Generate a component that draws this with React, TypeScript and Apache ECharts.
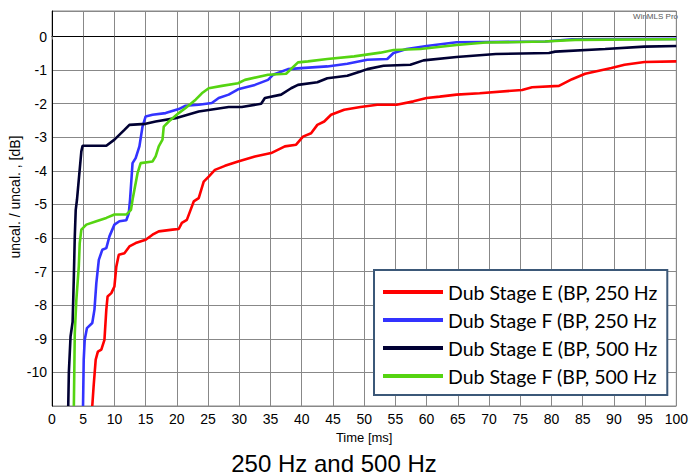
import React, { useEffect, useRef } from "react";
import * as echarts from "echarts";

const xTicks = [0, 5, 10, 15, 20, 25, 30, 35, 40, 45, 50, 55, 60, 65, 70, 75, 80, 85, 90, 95, 100];
const yTickLabels = [0, -1, -2, -3, -4, -5, -6, -7, -8, -9, -10];

const seriesNames = [
  "Dub Stage E (BP, 250 Hz",
  "Dub Stage F (BP, 250 Hz",
  "Dub Stage E (BP, 500 Hz",
  "Dub Stage F (BP, 500 Hz",
];
const seriesColors = ["#ff0000", "#3333ff", "#000033", "#55d411"];

const redT = [6.45, 6.67, 7.0, 7.35, 7.9, 8.4, 8.7, 8.9, 9.5, 10.0, 10.3, 10.7, 11.6, 12.4, 13.4, 15.0, 16.1, 17.1, 19.3, 20.3, 20.8, 21.6, 22.2, 22.7, 23.5, 24.3, 25.1, 26.1, 27.7, 29.8, 32.5, 35.1, 37.3, 39.1, 40.2, 41.5, 42.5, 43.6, 44.7, 46.8, 49.4, 52.1, 55.2, 57.9, 60.0, 62.1, 64.8, 68.5, 75.3, 76.9, 81.2, 83.3, 85.4, 89.6, 91.7, 94.9, 100];
const redV = [-11, -10.4, -9.62, -9.38, -9.32, -9.03, -8.13, -7.74, -7.64, -7.44, -6.85, -6.5, -6.45, -6.25, -6.15, -6.05, -5.9, -5.8, -5.75, -5.73, -5.55, -5.46, -5.16, -4.91, -4.81, -4.32, -4.17, -3.97, -3.85, -3.72, -3.57, -3.47, -3.27, -3.22, -2.98, -2.88, -2.63, -2.53, -2.33, -2.18, -2.1, -2.03, -2.03, -1.93, -1.83, -1.79, -1.73, -1.69, -1.59, -1.51, -1.47, -1.27, -1.11, -0.94, -0.84, -0.76, -0.74];

const blueT = [4.97, 5.08, 5.24, 5.6, 6.45, 6.8, 7.1, 7.5, 8.05, 8.7, 9.2, 10.0, 10.8, 11.9, 12.3, 12.5, 12.9, 13.4, 14.0, 14.5, 15.0, 16.1, 18.2, 20.3, 21.4, 23.5, 25.6, 26.7, 28.3, 29.8, 32.5, 34.6, 35.4, 37.8, 39.9, 44.1, 47.3, 50.5, 53.7, 54.7, 56.8, 60.0, 64.8, 79.0, 83.3, 100];
const blueV = [-11, -9.62, -9.03, -8.68, -8.53, -8.13, -7.34, -6.65, -6.35, -6.3, -5.95, -5.6, -5.5, -5.47, -5.26, -4.86, -3.77, -3.62, -3.27, -2.68, -2.38, -2.33, -2.28, -2.16, -2.06, -2.03, -1.98, -1.83, -1.73, -1.57, -1.44, -1.29, -1.14, -0.97, -0.94, -0.89, -0.81, -0.69, -0.67, -0.49, -0.37, -0.28, -0.17, -0.15, -0.08, -0.07];

const navyT = [2.6, 2.7, 2.97, 3.3, 3.4, 3.5, 3.65, 3.8, 4.0, 4.7, 4.9, 8.7, 10.0, 11.6, 12.4, 15.0, 16.6, 19.8, 23.5, 28.3, 30.4, 33.5, 34.1, 36.7, 38.3, 39.4, 42.5, 44.1, 47.3, 49.4, 50.5, 53.1, 57.4, 59.5, 64.8, 71.1, 79.6, 80.6, 88.6, 94.9, 100];
const navyV = [-11, -10.0, -8.93, -8.5, -7.84, -7.14, -5.95, -5.16, -4.86, -3.42, -3.25, -3.25, -3.07, -2.78, -2.63, -2.6, -2.53, -2.43, -2.23, -2.1, -2.1, -2.0, -1.83, -1.73, -1.54, -1.44, -1.36, -1.24, -1.17, -1.04, -0.97, -0.87, -0.84, -0.71, -0.61, -0.52, -0.49, -0.45, -0.37, -0.3, -0.28];

const greenT = [3.5, 3.65, 3.9, 4.29, 4.44, 4.7, 5.5, 7.1, 8.7, 10.0, 11.9, 12.65, 12.9, 13.7, 14.2, 16.1, 16.6, 17.1, 17.7, 17.9, 18.7, 20.3, 21.4, 23.0, 24.0, 25.1, 27.2, 29.8, 30.9, 34.6, 37.5, 39.4, 41.0, 44.1, 48.4, 52.6, 54.7, 59.0, 64.8, 69.5, 79.0, 83.8, 100];
const greenV = [-11, -8.83, -7.84, -6.85, -6.15, -5.75, -5.6, -5.5, -5.4, -5.3, -5.3, -5.16, -4.86, -4.07, -3.77, -3.72, -3.57, -3.27, -3.07, -2.68, -2.53, -2.28, -2.13, -1.88, -1.69, -1.54, -1.47, -1.39, -1.29, -1.14, -1.11, -0.77, -0.74, -0.67, -0.59, -0.48, -0.4, -0.37, -0.25, -0.18, -0.15, -0.1, -0.08];

const allT = [redT, blueT, navyT, greenT];
const allV = [redV, blueV, navyV, greenV];

const zip = (t: number[], v: number[]) => t.map((x, i) => [x, v[i]]);

export default function App() {
  const ref = useRef<HTMLDivElement>(null);
  useEffect(() => {
    document.body.style.margin = "0";
    const chart = echarts.init(ref.current!, null, { renderer: "svg" });
    const axisFont = "'Liberation Sans', Arial, sans-serif";
    chart.setOption({
      animation: false,
      backgroundColor: "#ffffff",
      grid: {
        left: 52,
        right: 9,
        top: 11,
        bottom: 70,
        show: true,
        borderColor: "#888888",
        borderWidth: 1,
      },
      xAxis: {
        type: "value",
        min: 0,
        max: 100,
        interval: 5,
        name: "Time [ms]",
        nameLocation: "middle",
        nameGap: 24,
        nameTextStyle: { fontFamily: axisFont, fontSize: 13, color: "#000" },
        axisLine: { show: true, lineStyle: { color: "#000", width: 1 } },
        axisTick: { show: true, length: 3, lineStyle: { color: "#777" } },
        axisLabel: {
          fontFamily: axisFont,
          fontSize: 14,
          color: "#000",
          margin: 6,
          formatter: (v: number) => (xTicks.includes(v) ? String(v) : ""),
        },
        splitLine: { show: true, lineStyle: { color: "#888888", width: 1 } },
      },
      yAxis: {
        type: "value",
        min: -11,
        max: 0.76,
        interval: 1,
        axisLine: { show: true, lineStyle: { color: "#000", width: 1 } },
        axisTick: { show: false },
        axisLabel: {
          fontFamily: axisFont,
          fontSize: 14,
          color: "#000",
          margin: 5,
          showMaxLabel: false,
          formatter: (v: number) => (yTickLabels.includes(v) ? String(v) : ""),
        },
        splitLine: { show: true, lineStyle: { color: "#888888", width: 1 } },
      },
      legend: {
        orient: "vertical",
        left: 374,
        top: 270,
        backgroundColor: "#ffffff",
        borderColor: "#3b5878",
        borderWidth: 2,
        borderRadius: 0,
        padding: [12, 10, 9, 9],
        itemWidth: 60,
        itemHeight: 4,
        itemGap: 8,
        icon: "rect",
        textStyle: {
          fontFamily: "Lato, sans-serif",
          fontSize: 19.5,
          lineHeight: 20,
          color: "#000",
          padding: [0, 0, 0, 0],
        },
        data: seriesNames,
      },
      series: seriesNames.map((name, i) => ({
        name,
        type: "line",
        showSymbol: false,
        symbol: "none",
        data: zip(allT[i], allV[i]),
        lineStyle: { color: seriesColors[i], width: 2.6 },
        itemStyle: { color: seriesColors[i] },
        z: 2 + i,
      })),
      graphic: [
        {
          type: "text",
          x: 15,
          y: 197,
          rotation: Math.PI / 2,
          style: {
            text: "uncal. / uncal. , [dB]",
            fontFamily: axisFont,
            fontSize: 14,
            fill: "#000",
            align: "center",
            verticalAlign: "middle",
          },
        },
        {
          type: "text",
          x: 678,
          y: 16,
          style: {
            text: "WinMLS Pro",
            fontFamily: axisFont,
            fontSize: 8,
            fill: "#555",
            align: "right",
            verticalAlign: "middle",
          },
        },
        {
          type: "text",
          x: 334,
          y: 463,
          style: {
            text: "250 Hz and 500 Hz",
            fontFamily: axisFont,
            fontSize: 24,
            fill: "#000",
            align: "center",
            verticalAlign: "middle",
          },
        },
      ],
    });
    return () => chart.dispose();
  }, []);
  return <div ref={ref} style={{ width: 691, height: 476 }} />;
}
